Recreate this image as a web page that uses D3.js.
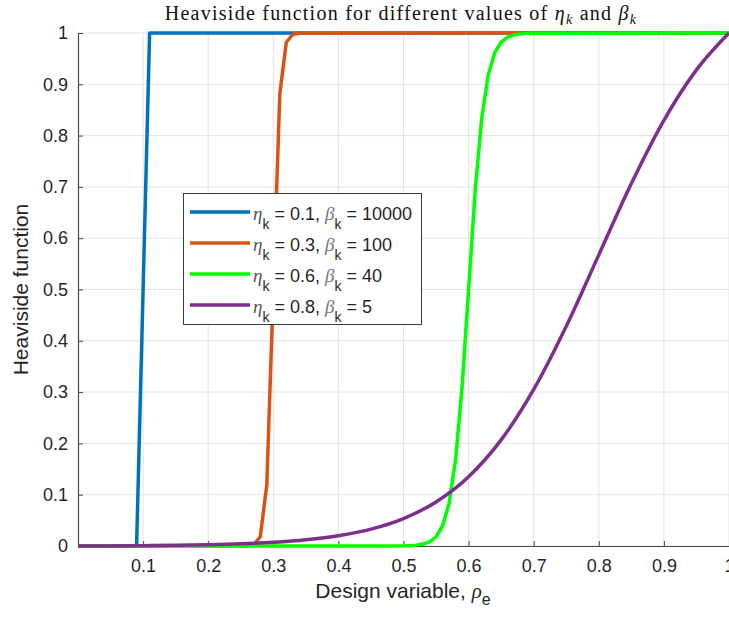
<!DOCTYPE html>
<html><head><meta charset="utf-8">
<script src="https://cdn.jsdelivr.net/npm/d3@7"></script>
<style>body{margin:0;background:#fff;} svg{display:block;}</style>
</head><body>
<svg id="c" width="729" height="617"></svg>
<script>
// ---- data ----
const blueX   = [0, 0.09, 0.10, 0.11, 1];
const blueY   = [0, 0, 0.5, 1, 1];
const orangeX = [0, 0.26, 0.27, 0.28, 0.29, 0.30, 0.31, 0.32, 0.33, 0.34, 1];
const orangeY = [0, 0.0003, 0.0025, 0.018, 0.119, 0.5, 0.881, 0.982, 0.9975, 0.9997, 1];
const greenX  = [0, 0.48, 0.50, 0.51, 0.52, 0.53, 0.54, 0.55, 0.56, 0.57, 0.58, 0.59, 0.60, 0.61, 0.62, 0.63, 0.64, 0.65, 0.66, 0.67, 0.68, 0.69, 0.70, 1];
const greenY  = [0, 0.0001, 0.0003, 0.0007, 0.0017, 0.0037, 0.0082, 0.018, 0.039, 0.083, 0.168, 0.310, 0.5, 0.690, 0.832, 0.917, 0.961, 0.982, 0.9918, 0.9963, 0.9983, 0.9993, 0.9997, 1];
const purpleX = [0, 0.05, 0.10, 0.15, 0.20, 0.25, 0.30, 0.35, 0.40, 0.45, 0.50, 0.55, 0.60, 0.65, 0.70, 0.75, 0.80, 0.85, 0.90, 0.95, 1];
const purpleY = [0, 0.0002, 0.0007, 0.0013, 0.0024, 0.0042, 0.0072, 0.0121, 0.0200, 0.0329, 0.0535, 0.0858, 0.1350, 0.2068, 0.3051, 0.4284, 0.5675, 0.7066, 0.8299, 0.9282, 1];
const seriesEta  = ["0.1", "0.3", "0.6", "0.8"];
const seriesBeta = ["10000", "100", "40", "5"];
const xTicks = [0.1, 0.2, 0.3, 0.4, 0.5, 0.6, 0.7, 0.8, 0.9, 1];
const yTicks = [0, 0.1, 0.2, 0.3, 0.4, 0.5, 0.6, 0.7, 0.8, 0.9, 1];

const colors = ["#0072BD", "#D95319", "#00FF00", "#7E2F8E"];
const series = [
  {x: blueX, y: blueY, curve: d3.curveLinear},
  {x: orangeX, y: orangeY, curve: d3.curveLinear},
  {x: greenX, y: greenY, curve: d3.curveLinear},
  {x: purpleX, y: purpleY, curve: d3.curveMonotoneX}
];

const svg = d3.select("#c");
const L = 78, R = 729, T = 33, B = 546;
const x = d3.scaleLinear().domain([0, 1]).range([L, R]);
const y = d3.scaleLinear().domain([0, 1]).range([B, T]);
const sans = "'Liberation Sans', Arial, sans-serif";
const serif = "'Liberation Serif', 'Times New Roman', serif";
const axisCol = "#4a4a4a";

// grid
const g = svg.append("g");
g.selectAll(".gx").data(xTicks).join("line")
  .attr("x1", d => x(d)).attr("x2", d => x(d)).attr("y1", T).attr("y2", B)
  .attr("stroke", "#e3e3e3").attr("stroke-width", 1);
g.selectAll(".gy").data(yTicks).join("line")
  .attr("x1", L).attr("x2", R).attr("y1", d => y(d)).attr("y2", d => y(d))
  .attr("stroke", "#e3e3e3").attr("stroke-width", 1);

// axes
const xAxis = d3.axisBottom(x).tickValues(xTicks).tickSizeInner(-5).tickSizeOuter(0).tickPadding(13)
  .tickFormat(d => d === 1 ? "1" : d3.format(".1f")(d));
const yAxis = d3.axisLeft(y).tickValues(yTicks).tickSizeInner(-5).tickSizeOuter(0).tickPadding(10)
  .tickFormat(d => (d === 0 || d === 1) ? String(d) : d3.format(".1f")(d));
const ax = svg.append("g").attr("transform", `translate(0,${B})`).call(xAxis);
const ay = svg.append("g").attr("transform", `translate(${L},0)`).call(yAxis);
[ax, ay].forEach(a => {
  a.select(".domain").attr("stroke", axisCol).attr("stroke-width", 1.2);
  a.selectAll(".tick line").attr("stroke", axisCol);
  a.selectAll(".tick text").attr("fill", "#262626").attr("font-family", sans).attr("font-size", 18);
});

// lines
series.forEach((s, i) => {
  const pts = s.x.map((v, j) => [v, s.y[j]]);
  svg.append("path").datum(pts)
    .attr("d", d3.line().x(d => x(d[0])).y(d => y(d[1])).curve(s.curve))
    .attr("fill", "none").attr("stroke", colors[i]).attr("stroke-width", 3.5)
    .attr("stroke-linejoin", "round").attr("stroke-linecap", "butt");
});

// title
const title = svg.append("text").attr("x", 401).attr("y", 20).attr("text-anchor", "middle")
  .attr("font-family", serif).attr("font-size", 20).attr("letter-spacing", 1.25).attr("fill", "#111");
title.append("tspan").text("Heaviside function for different values of ");
title.append("tspan").attr("font-style", "italic").text("η");
title.append("tspan").attr("font-style", "italic").attr("font-size", 14).attr("dy", 4).text("k");
title.append("tspan").attr("dy", -4).text(" and ");
title.append("tspan").attr("font-style", "italic").text("β");
title.append("tspan").attr("font-style", "italic").attr("font-size", 14).attr("dy", 4).text("k");

// axis labels
const xl = svg.append("text").attr("x", 403).attr("y", 598).attr("text-anchor", "middle")
  .attr("font-family", sans).attr("font-size", 21).attr("fill", "#262626");
xl.append("tspan").text("Design variable, ");
xl.append("tspan").attr("font-family", serif).attr("font-style", "italic").text("ρ");
xl.append("tspan").attr("font-size", 16).attr("dy", 7).text("e");
svg.append("text").attr("transform", `translate(28,${(T + B) / 2}) rotate(-90)`)
  .attr("text-anchor", "middle").attr("font-family", sans).attr("font-size", 21)
  .attr("fill", "#262626").text("Heaviside function");

// legend
const lg = svg.append("g");
lg.append("rect").attr("x", 183.5).attr("y", 193.5).attr("width", 238).attr("height", 131)
  .attr("fill", "#fff").attr("stroke", "#3a3a3a").attr("stroke-width", 1);
seriesEta.forEach((eta, i) => {
  const cy = 212 + i * 31;
  lg.append("line").attr("x1", 190).attr("x2", 250).attr("y1", cy).attr("y2", cy)
    .attr("stroke", colors[i]).attr("stroke-width", 3.5);
  const t = lg.append("text").attr("x", 253).attr("y", cy + 8)
    .attr("font-family", sans).attr("font-size", 18).attr("fill", "#262626");
  t.append("tspan").attr("font-family", serif).attr("font-style", "italic").attr("font-size", 19).attr("fill", "#555").text("η");
  t.append("tspan").attr("font-size", 14).attr("dy", 9).text("k");
  t.append("tspan").attr("dy", -9).text(" = " + eta + ", ");
  t.append("tspan").attr("font-family", serif).attr("font-style", "italic").attr("font-size", 19).attr("fill", "#777").text("β");
  t.append("tspan").attr("font-size", 14).attr("dy", 9).text("k");
  t.append("tspan").attr("dy", -9).text(" = " + seriesBeta[i]);
});
</script>
</body></html>
